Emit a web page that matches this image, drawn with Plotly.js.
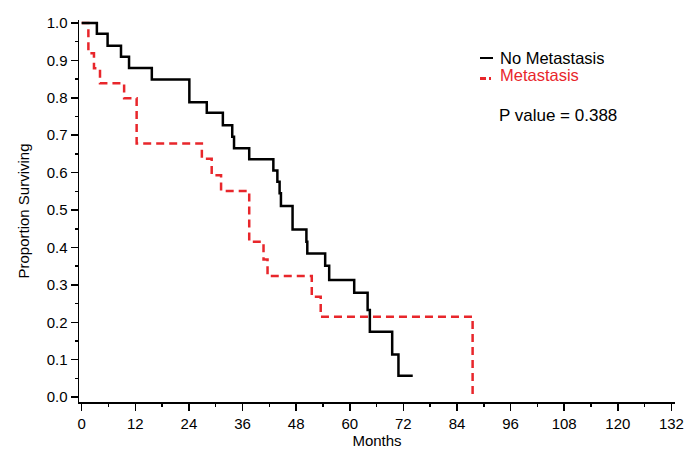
<!DOCTYPE html>
<html>
<head>
<meta charset="utf-8">
<script src="https://cdn.plot.ly/plotly-3.0.1.min.js"></script>
<style>html,body{margin:0;padding:0;background:#fff;}#chart{width:700px;height:465px;}</style>
</head>
<body>
<div id="chart"></div>
<script>
// Kaplan-Meier step data
var noMetMonths = [0, 3.4, 5.8, 8.8, 10.6, 15.7, 24.1, 28.0, 31.6, 33.7, 34.1, 37.5, 42.9, 43.8, 44.3, 44.6, 47.2, 50.3, 50.5, 54.5, 55.4, 61.0, 64.0, 64.5, 69.5, 70.9, 74.1];
var noMetSurv   = [1.0, 0.971, 0.939, 0.910, 0.880, 0.849, 0.788, 0.760, 0.727, 0.696, 0.665, 0.636, 0.606, 0.576, 0.545, 0.511, 0.448, 0.415, 0.384, 0.351, 0.313, 0.279, 0.233, 0.175, 0.114, 0.057, 0.057];

var metMonths = [0, 1.5, 2.75, 4.1, 9.5, 12.3, 26.9, 29.1, 31.2, 37.5, 40.7, 41.6, 51.5, 53.5, 87.5];
var metSurv   = [1.0, 0.919, 0.879, 0.839, 0.799, 0.678, 0.637, 0.593, 0.551, 0.415, 0.368, 0.324, 0.268, 0.215, 0.0];

var xTickVals = [0, 12, 24, 36, 48, 60, 72, 84, 96, 108, 120, 132];
var yTickVals = [0.0, 0.1, 0.2, 0.3, 0.4, 0.5, 0.6, 0.7, 0.8, 0.9, 1.0];
var yTickText = ["0.0", "0.1", "0.2", "0.3", "0.4", "0.5", "0.6", "0.7", "0.8", "0.9", "1.0"];

var seriesNames = ["No Metastasis", "Metastasis"];
var pValueText = "P value = 0.388";

var FONT = "Liberation Sans, Arial, Helvetica, sans-serif";

var traces = [
  {x: metMonths, y: metSurv, type: "scatter", mode: "lines", name: seriesNames[1],
   line: {shape: "hv", color: "#e8262b", width: 2.5, dash: "8px,5px"}},
  {x: noMetMonths, y: noMetSurv, type: "scatter", mode: "lines", name: seriesNames[0],
   line: {shape: "hv", color: "#000000", width: 2.5}}
];

var layout = {
  width: 700, height: 465,
  margin: {l: 79, r: 25, t: 20, b: 63, pad: 0},
  paper_bgcolor: "#ffffff", plot_bgcolor: "#ffffff",
  showlegend: false,
  font: {family: FONT, color: "#000", size: 15},
  xaxis: {
    range: [-0.6, 132.8], showgrid: false, zeroline: false,
    showline: true, linecolor: "#000", linewidth: 1.5,
    ticks: "outside", ticklen: 7, tickwidth: 1.5, tickcolor: "#000",
    tickvals: xTickVals, tickfont: {family: FONT, size: 15},
    minor: {dtick: 6, tick0: 0, ticks: "outside", ticklen: 3, tickwidth: 1.5, tickcolor: "#000", showgrid: false},
    title: {text: "Months", font: {family: FONT, size: 15}, standoff: 1}
  },
  yaxis: {
    range: [-0.013, 1.008], showgrid: false, zeroline: false,
    showline: true, linecolor: "#000", linewidth: 1.5,
    ticks: "outside", ticklen: 7, tickwidth: 1.5, tickcolor: "#000",
    tickvals: yTickVals, ticktext: yTickText, tickfont: {family: FONT, size: 15},
    minor: {dtick: 0.05, tick0: 0, ticks: "outside", ticklen: 3, tickwidth: 1.5, tickcolor: "#000", showgrid: false},
    title: {text: "Proportion Surviving", font: {family: FONT, size: 15}, standoff: 13}
  },
  shapes: [
    {type: "line", xref: "paper", yref: "paper", x0: 0.6728, x1: 0.6946, y0: 0.9005, y1: 0.9005,
     line: {color: "#000", width: 2}},
    {type: "line", xref: "paper", yref: "paper", x0: 0.6728, x1: 0.6829, y0: 0.8469, y1: 0.8469,
     line: {color: "#e8262b", width: 3}},
    {type: "line", xref: "paper", yref: "paper", x0: 0.6879, x1: 0.6913, y0: 0.8469, y1: 0.8469,
     line: {color: "#e8262b", width: 3}}
  ],
  annotations: [
    {xref: "paper", yref: "paper", x: 0.7025, y: 0.9030, xanchor: "left", yanchor: "middle", height: 17,
     text: seriesNames[0], showarrow: false, font: {family: FONT, size: 16.5, color: "#000"}},
    {xref: "paper", yref: "paper", x: 0.7025, y: 0.8570, xanchor: "left", yanchor: "middle", height: 17,
     text: seriesNames[1], showarrow: false, font: {family: FONT, size: 16.5, color: "#e8262b"}},
    {xref: "paper", yref: "paper", x: 0.7008, y: 0.7487, xanchor: "left", yanchor: "middle",
     text: pValueText, showarrow: false, font: {family: FONT, size: 17, color: "#000"}}
  ]
};

Plotly.newPlot("chart", traces, layout, {staticPlot: true, displayModeBar: false});
</script>
</body>
</html>
